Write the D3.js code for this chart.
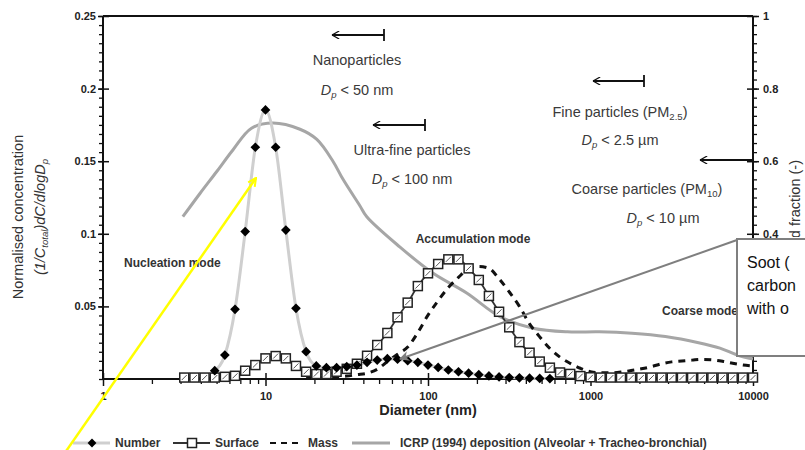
<!DOCTYPE html>
<html>
<head>
<meta charset="utf-8">
<script src="https://cdn.jsdelivr.net/npm/d3@7"></script>
<style>
  body { margin: 0; background: #fff; }
  text { font-family: "Liberation Sans", Arial, sans-serif; }
</style>
</head>
<body>
<div class="chart"></div>
<script>

// size grid of the distributions, 16 points per decade (nm)
var sizeGrid = [3.162, 3.652, 4.217, 4.870, 5.623, 6.494, 7.499, 8.660, 10.00, 11.55,
  13.34, 15.40, 17.78, 20.54, 23.71, 27.38, 31.62, 36.52, 42.17, 48.70,
  56.23, 64.94, 74.99, 86.60, 100.0, 115.5, 133.4, 154.0, 177.8, 205.4,
  237.1, 273.8, 316.2, 365.2, 421.7, 487.0, 562.3, 649.4, 749.9, 866.0,
  1000, 1155, 1334, 1540, 1778, 2054, 2371, 2738, 3162, 3652,
  4217, 4870, 5623, 6494, 7499, 8660, 10000];

var numberVals = [null, null, null, 0.0057, 0.0165, 0.048, 0.1015, 0.1596, 0.1853, 0.1596,
  0.1026, 0.0487, 0.0188, 0.009, 0.0078, 0.0078, 0.0085, 0.0096, 0.0115, 0.013,
  0.014, 0.0136, 0.0126, 0.0115, 0.0096, 0.008, 0.0062, 0.005, 0.004, 0.003,
  0.0021, 0.0014, 0.001, 0.0008, 0.0006, 0.0004, 0.0003, null, null, null,
  null, null, null, null, null, null, null, null, null, null,
  null, null, null, null, null, null, null];

var surfaceVals = [0.001, 0.001, 0.001, 0.001, 0.0015, 0.0022, 0.0057, 0.0096, 0.0142, 0.0158,
  0.0142, 0.009, 0.005, 0.0034, 0.0034, 0.005, 0.007, 0.0105, 0.016, 0.0234,
  0.0317, 0.0425, 0.0526, 0.064, 0.0728, 0.0792, 0.0824, 0.0824, 0.0762, 0.0682,
  0.0572, 0.0463, 0.0356, 0.0254, 0.0181, 0.012, 0.0078, 0.0045, 0.0035, 0.002,
  0.0012, 0.001, 0.001, 0.001, 0.001, 0.001, 0.001, 0.001, 0.001, 0.001,
  0.001, 0.001, 0.001, 0.001, 0.001, 0.001, 0.001];

var massVals = [null, null, null, null, null, null, null, null, null, null,
  null, null, 0.001, 0.001, 0.0012, 0.0015, 0.002, 0.003, 0.004, 0.0067,
  0.012, 0.017, 0.022, 0.032, 0.044, 0.054, 0.063, 0.070, 0.076, 0.0775,
  0.0762, 0.069, 0.060, 0.050, 0.038, 0.029, 0.021, 0.015, 0.0108, 0.0074,
  0.005, 0.0043, 0.0043, 0.0048, 0.0058, 0.007, 0.0085, 0.0105, 0.0118, 0.0124,
  0.013, 0.0135, 0.0132, 0.0122, 0.0108, 0.0097, 0.009];

// ICRP (1994) deposited fraction, right axis
var icrpDiam = [3.1, 3.95, 5.0, 6.3, 8.2, 11.1, 16.3, 20.7, 26, 30, 38, 42, 67, 107, 173,
  277, 443, 722, 1133, 1800, 2890, 4625, 6260, 8010, 10000];
var icrpFrac = [0.447, 0.511, 0.571, 0.631, 0.691, 0.705, 0.688, 0.66, 0.60, 0.55, 0.478,
  0.447, 0.364, 0.292, 0.237, 0.172, 0.140, 0.130, 0.130, 0.126, 0.117, 0.10, 0.085, 0.066, 0.055];

var xTicks = [1, 10, 100, 1000, 10000];
var yLeftTicks = [0.05, 0.1, 0.15, 0.2, 0.25];
var yRightTicks = [0.2, 0.4, 0.6, 0.8, 1];

var W = 805, H = 450;
var pLeft = 103, pRight = 753, pTop = 16, pBottom = 379;

var svg = d3.select(".chart").append("svg")
    .attr("width", W)
    .attr("height", H);

svg.append("rect").attr("width", W).attr("height", H).attr("fill", "#fff");

var defs = svg.append("defs");
defs.append("marker")
    .attr("id", "yellowHead")
    .attr("viewBox", "0 0 10 10")
    .attr("refX", 9).attr("refY", 5)
    .attr("markerWidth", 10).attr("markerHeight", 10)
    .attr("markerUnits", "userSpaceOnUse")
    .attr("orient", "auto")
    .append("path")
    .attr("d", "M1,1 L9,5 L1,9")
    .attr("fill", "none")
    .attr("stroke", "#ffff00")
    .attr("stroke-width", 2);
defs.append("marker")
    .attr("id", "grayHead")
    .attr("viewBox", "0 0 10 10")
    .attr("refX", 9).attr("refY", 5)
    .attr("markerWidth", 12).attr("markerHeight", 10)
    .attr("markerUnits", "userSpaceOnUse")
    .attr("orient", "auto")
    .append("path")
    .attr("d", "M0,0 L10,5 L0,10 L3,5 Z")
    .attr("fill", "#7f7f7f");
defs.append("marker")
    .attr("id", "blackHead")
    .attr("viewBox", "0 0 10 10")
    .attr("refX", 9).attr("refY", 5)
    .attr("markerWidth", 10).attr("markerHeight", 8)
    .attr("markerUnits", "userSpaceOnUse")
    .attr("orient", "auto")
    .append("path")
    .attr("d", "M9,5 L0,0 M9,5 L0,10")
    .attr("fill", "none")
    .attr("stroke", "#111")
    .attr("stroke-width", 1.6);
// right title is hidden below the callout box
defs.append("clipPath").attr("id", "titleClip")
    .append("rect").attr("x", 760).attr("y", 0).attr("width", 45).attr("height", 237);

var x = d3.scaleLog().domain([1, 10000]).range([pLeft, pRight]);
var yL = d3.scaleLinear().domain([0, 0.25]).range([pBottom, pTop]);
var yR = d3.scaleLinear().domain([0, 1]).range([pBottom, pTop]);

// ---- axes ----
var tickFont = function(sel) {
  sel.selectAll("text")
      .attr("font-size", 11)
      .attr("font-weight", "bold")
      .attr("fill", "#222");
  sel.select(".domain").remove();
};

// minor ticks
var leftMinor = d3.range(0, 0.2501, 0.25 / 40);
var rightMinor = d3.range(0, 1.0001, 0.025);
var xMinor = [];
xTicks.slice(0, 4).forEach(function(t) {
  for (var m = 2; m < 10; m++) xMinor.push(t * m);
});

svg.append("g")
    .attr("transform", "translate(" + pLeft + ",0)")
    .call(d3.axisLeft(yL).tickValues(leftMinor).tickSize(4).tickFormat(""))
    .call(tickFont)
    .selectAll("line").attr("stroke", "#111").attr("stroke-width", 1.3);

svg.append("g")
    .attr("transform", "translate(" + pRight + ",0)")
    .call(d3.axisRight(yR).tickValues(rightMinor).tickSize(4).tickFormat(""))
    .call(tickFont)
    .selectAll("line").attr("stroke", "#111").attr("stroke-width", 1.3);

svg.append("g")
    .attr("transform", "translate(0," + pBottom + ")")
    .call(d3.axisBottom(x).tickValues(xMinor).tickSize(5).tickFormat(""))
    .call(tickFont)
    .selectAll("line").attr("stroke", "#111").attr("stroke-width", 1.3);

// major ticks with labels
var gl = svg.append("g")
    .attr("transform", "translate(" + pLeft + ",0)")
    .call(d3.axisLeft(yL).tickValues(yLeftTicks).tickSize(5).tickPadding(2)
      .tickFormat(function(d) { return String(+d.toFixed(2)); }))
    .call(tickFont);
gl.selectAll("line").attr("x1", 6).attr("stroke", "#111").attr("stroke-width", 1.5);

var gr = svg.append("g")
    .attr("transform", "translate(" + pRight + ",0)")
    .call(d3.axisRight(yR).tickValues(yRightTicks).tickSize(6).tickPadding(4)
      .tickFormat(function(d) { return String(+d.toFixed(1)); }))
    .call(tickFont);
gr.selectAll("line").attr("x1", -6).attr("stroke", "#111").attr("stroke-width", 1.5);

var gx = svg.append("g")
    .attr("transform", "translate(0," + pBottom + ")")
    .call(d3.axisBottom(x).tickValues(xTicks).tickSize(7).tickPadding(6)
      .tickFormat(d3.format("d")))
    .call(tickFont);
gx.selectAll("line").attr("y1", -6).attr("stroke", "#111").attr("stroke-width", 1.5);

// frame lines
svg.append("line").attr("x1", pLeft).attr("x2", pRight).attr("y1", pTop).attr("y2", pTop)
    .attr("stroke", "#111").attr("stroke-width", 2);
svg.append("line").attr("x1", pLeft).attr("x2", pRight).attr("y1", pBottom).attr("y2", pBottom)
    .attr("stroke", "#111").attr("stroke-width", 2);
svg.append("line").attr("x1", pLeft).attr("x2", pLeft).attr("y1", pTop).attr("y2", pBottom)
    .attr("stroke", "#111").attr("stroke-width", 2);
svg.append("line").attr("x1", pRight).attr("x2", pRight).attr("y1", pTop).attr("y2", pBottom)
    .attr("stroke", "#111").attr("stroke-width", 2);

// ---- series ----
function pts(vals) {
  return sizeGrid.map(function(d, i) { return {d: d, v: vals[i]}; })
      .filter(function(p) { return p.v !== null; });
}

var icrpPts = icrpDiam.map(function(d, i) { return {d: d, v: icrpFrac[i]}; });
svg.append("path")
    .datum(icrpPts)
    .attr("fill", "none")
    .attr("stroke", "#a6a6a6")
    .attr("stroke-width", 3)
    .attr("d", d3.line().curve(d3.curveCatmullRom)
      .x(function(p) { return x(p.d); })
      .y(function(p) { return yR(p.v); }));

var distLine = d3.line().curve(d3.curveMonotoneX)
    .x(function(p) { return x(p.d); })
    .y(function(p) { return yL(p.v); });

svg.append("path")
    .datum(pts(massVals))
    .attr("fill", "none")
    .attr("stroke", "#111")
    .attr("stroke-width", 3)
    .attr("stroke-dasharray", "7,6")
    .attr("d", distLine);

svg.append("path")
    .datum(pts(numberVals))
    .attr("fill", "none")
    .attr("stroke", "#cfcfcf")
    .attr("stroke-width", 3)
    .attr("d", distLine);

svg.append("path")
    .datum(pts(surfaceVals))
    .attr("fill", "none")
    .attr("stroke", "#333")
    .attr("stroke-width", 1.8)
    .attr("d", distLine);

var sq = svg.append("g").selectAll("g")
    .data(pts(surfaceVals))
    .enter().append("g")
    .attr("transform", function(p) { return "translate(" + x(p.d) + "," + yL(p.v) + ")"; });
sq.append("rect")
    .attr("x", -4.5).attr("y", -4.5).attr("width", 9).attr("height", 9)
    .attr("fill", "#fff").attr("stroke", "#222").attr("stroke-width", 1.5);
sq.append("line")
    .attr("x1", -2.5).attr("y1", 2.5).attr("x2", 2.5).attr("y2", -2.5)
    .attr("stroke", "#555").attr("stroke-width", 1);

svg.append("g").selectAll("path")
    .data(pts(numberVals))
    .enter().append("path")
    .attr("d", d3.symbol().type(d3.symbolDiamond2).size(60))
    .attr("transform", function(p) { return "translate(" + x(p.d) + "," + yL(p.v) + ")"; })
    .attr("fill", "#000");

// ---- text helper ----
function rich(x0, y0, parts, opts) {
  opts = opts || {};
  var t = svg.append("text")
      .attr("x", x0).attr("y", y0)
      .attr("text-anchor", opts.anchor || "middle")
      .attr("font-size", opts.size || 14.5)
      .attr("fill", opts.fill || "#3a3a3a");
  if (opts.weight) t.attr("font-weight", opts.weight);
  if (opts.rotate) t.attr("transform", "rotate(" + opts.rotate + "," + x0 + "," + y0 + ")");
  var shift = 0;
  parts.forEach(function(p) {
    var s = t.append("tspan").text(p.t);
    var want = p.sub ? 3 : 0;
    if (want !== shift) { s.attr("dy", want - shift); shift = want; }
    if (p.sub) s.attr("font-size", (opts.size || 14.5) * 0.66);
    if (p.it) s.attr("font-style", "italic");
  });
  return t;
}

// range arrows, pointing left
function rangeArrow(x1, x2, y, bar) {
  svg.append("line")
      .attr("x1", x2).attr("x2", x1).attr("y1", y).attr("y2", y)
      .attr("stroke", "#111").attr("stroke-width", 1.8)
      .attr("marker-end", "url(#blackHead)");
  if (bar) {
    svg.append("line").attr("x1", x2).attr("x2", x2).attr("y1", y - 6).attr("y2", y + 6)
        .attr("stroke", "#111").attr("stroke-width", 1.8);
  }
}
rangeArrow(332, 384, 35, true);
rangeArrow(373, 425, 125, true);
rangeArrow(593, 644, 81, true);
rangeArrow(700, 753, 160, false);

rich(357, 65, [{t: "Nanoparticles"}]);
rich(357, 95, [{t: "D", it: true}, {t: "p", it: true, sub: true}, {t: " < 50 nm"}]);
rich(412, 155, [{t: "Ultra-fine particles"}]);
rich(412, 184, [{t: "D", it: true}, {t: "p", it: true, sub: true}, {t: " < 100 nm"}]);
rich(620, 117, [{t: "Fine particles (PM"}, {t: "2.5", sub: true}, {t: ")"}]);
rich(620, 145, [{t: "D", it: true}, {t: "p", it: true, sub: true}, {t: " < 2.5 µm"}]);
rich(647, 194, [{t: "Coarse particles (PM"}, {t: "10", sub: true}, {t: ")"}]);
rich(663, 223, [{t: "D", it: true}, {t: "p", it: true, sub: true}, {t: " < 10 µm"}]);

rich(124, 267, [{t: "Nucleation mode"}], {anchor: "start", size: 12, weight: "bold", fill: "#333"});
rich(473, 243, [{t: "Accumulation mode"}], {size: 12, weight: "bold", fill: "#333"});
rich(662, 315, [{t: "Coarse mode"}], {anchor: "start", size: 12, weight: "bold", fill: "#333"});

// axis titles
rich(23, 217, [{t: "Normalised concentration"}], {rotate: -90, fill: "#333"});
rich(45, 217, [{t: "(1/C", it: true}, {t: "total", it: true, sub: true}, {t: ")dC/dlogD", it: true},
  {t: "p", it: true, sub: true}], {rotate: -90, fill: "#333"});
svg.append("g").attr("clip-path", "url(#titleClip)")
    .append(function() {
      return rich(800, 160, [{t: "Deposited fraction (-)"}], {rotate: -90, fill: "#333", anchor: "end"}).remove().node();
    });
rich(428, 415, [{t: "Diameter (nm)"}], {weight: "bold", fill: "#222"});

// ---- legend ----
var legY = 443;
var leg = svg.append("g");
leg.append("line").attr("x1", 73).attr("x2", 110).attr("y1", legY).attr("y2", legY)
    .attr("stroke", "#cfcfcf").attr("stroke-width", 3);
leg.append("path").attr("d", d3.symbol().type(d3.symbolDiamond2).size(50))
    .attr("transform", "translate(92," + legY + ")").attr("fill", "#000");
leg.append("line").attr("x1", 173).attr("x2", 210).attr("y1", legY).attr("y2", legY)
    .attr("stroke", "#333").attr("stroke-width", 1.8);
leg.append("rect").attr("x", 187.5).attr("y", legY - 4.5).attr("width", 9).attr("height", 9)
    .attr("fill", "#fff").attr("stroke", "#222").attr("stroke-width", 1.5);
leg.append("line").attr("x1", 270).attr("x2", 302).attr("y1", legY).attr("y2", legY)
    .attr("stroke", "#111").attr("stroke-width", 2.2).attr("stroke-dasharray", "6,5");
leg.append("line").attr("x1", 352).attr("x2", 390).attr("y1", legY).attr("y2", legY)
    .attr("stroke", "#a6a6a6").attr("stroke-width", 3);
var legendLabels = [["Number", 115], ["Surface", 215], ["Mass", 308],
  ["ICRP (1994) deposition (Alveolar + Tracheo-bronchial)", 400]];
legendLabels.forEach(function(l) {
  leg.append("text").attr("x", l[1]).attr("y", legY + 4)
      .attr("font-size", 12).attr("font-weight", "bold").attr("fill", "#333")
      .text(l[0]);
});

// ---- overlays ----
// yellow arrow
svg.append("line")
    .attr("x1", 62).attr("y1", 457).attr("x2", 256).attr("y2", 178)
    .attr("stroke", "#ffff00").attr("stroke-width", 2.5)
    .attr("marker-end", "url(#yellowHead)");

// callout line and box
svg.append("line")
    .attr("x1", 737).attr("y1", 240).attr("x2", 400).attr("y2", 359)
    .attr("stroke", "#7f7f7f").attr("stroke-width", 2)
    .attr("marker-end", "url(#grayHead)");
svg.append("rect")
    .attr("x", 737).attr("y", 239).attr("width", 80).attr("height", 117)
    .attr("fill", "#fff").attr("stroke", "#7f7f7f").attr("stroke-width", 2);
var callout = ["Soot (", "carbon", "with o"];
callout.forEach(function(s, i) {
  svg.append("text")
      .attr("x", 747).attr("y", 268 + i * 23)
      .attr("font-family", "Lato, 'Open Sans', sans-serif")
      .attr("font-size", 16).attr("fill", "#111")
      .text(s);
});

</script>
</body>
</html>
